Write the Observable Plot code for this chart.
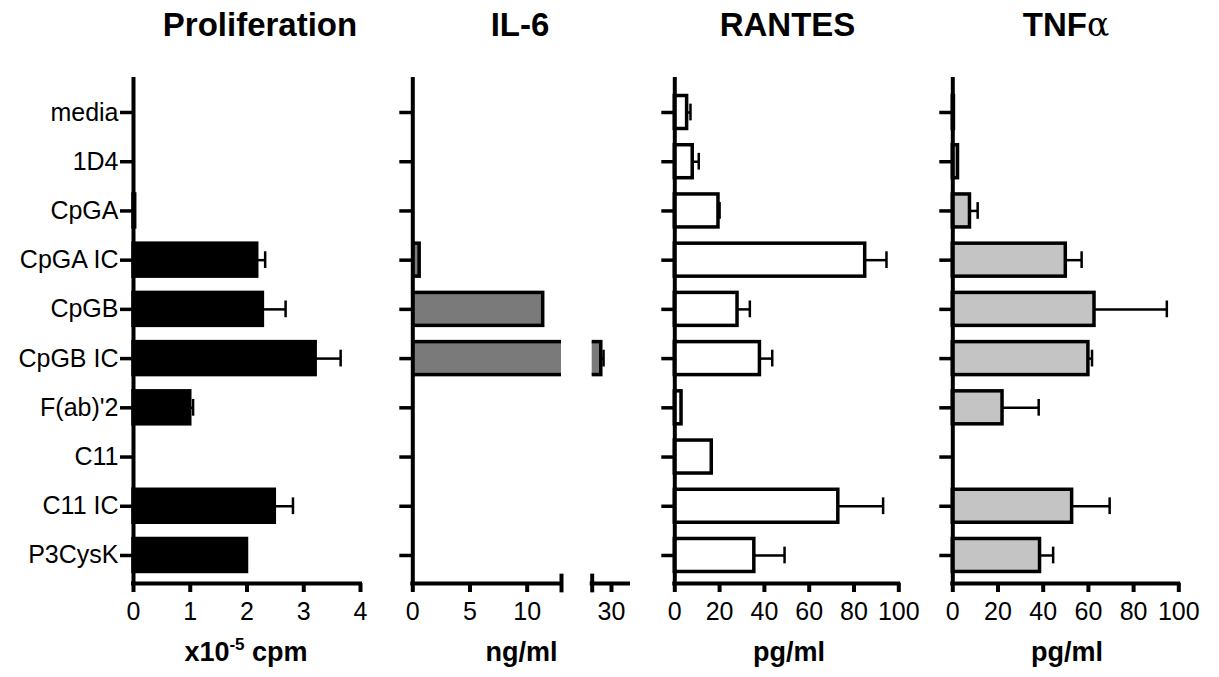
<!DOCTYPE html>
<html><head><meta charset="utf-8">
<script src="https://cdn.jsdelivr.net/npm/d3@7"></script>
<script src="https://cdn.jsdelivr.net/npm/@observablehq/plot@0.6"></script>
<style>
body{margin:0;background:#fff;}
#chart{position:relative;width:1219px;height:677px;font-family:"Liberation Sans",Arial,sans-serif;color:#000;overflow:hidden;}
#chart svg{position:absolute;left:0;top:0;background:transparent;max-width:none;}
.t{position:absolute;font-weight:bold;white-space:nowrap;transform:translateX(-50%);line-height:1;}
.title{font-size:33px;top:8px;}
.xl{font-size:27px;top:639px;}
</style></head><body><div id="chart"></div>
<script>
// ---- data ----
const categories = ["media","1D4","CpGA","CpGA IC","CpGB","CpGB IC","F(ab)'2","C11","C11 IC","P3CysK"];
const prolifMean = [0, 0, 0.03, 2.18, 2.28, 3.21, 1.0, 0, 2.49, 2.0];
const prolifErr  = [0, 0, 0, 0.14, 0.40, 0.44, 0.05, 0, 0.32, 0];
const il6Mean    = [0, 0, 0, 0.6, 11.4, 29.1, 0, 0, 0, 0];
const il6Err     = [0, 0, 0, 0, 0, 0.2, 0, 0, 0, 0];
const rantesMean = [5.5, 8, 19.5, 85, 28, 38, 3, 16.5, 73, 35.5];
const rantesErr  = [1.5, 2.7, 0.5, 9.5, 5.5, 5.5, 0, 0, 20, 13.5];
const tnfMean    = [0.5, 2.3, 7.6, 50, 62.7, 60, 22, 0, 52.8, 38.6];
const tnfErr     = [0, 0, 3.4, 7, 32, 1.6, 16, 0, 16.6, 5.8];
const prolifTicks = [0, 1, 2, 3, 4];
const il6TicksA = [0, 5, 10];
const il6TicksB = [30];
const pgTicks = [0, 20, 40, 60, 80, 100];

// ---- layout ----
const W = 1219, H = 677, TOP = 79, AXIS = 583;
const STEP = 49.22, FIRST = 112;
const yDomain = [(TOP - FIRST) / STEP, (AXIS - FIRST) / STEP];
const HALF = 0.335, CAP = 0.17;

function rows(mean, err) {
  return categories.map((c, i) => ({c, i, v: mean[i], e: err[i]}));
}

function panel({mean, err, fill, xDomain, x0, x1, ticks, yAxis = true, labels = false, clip = false, capLeft = false, capRight = false}) {
  const data = rows(mean, err);
  const withErr = data.filter(d => d.e > 0);
  const marks = [
    Plot.rectX(data, {
      x1: () => 0, x2: "v",
      y1: d => d.i - HALF, y2: d => d.i + HALF,
      fill, stroke: "black", strokeWidth: 3.5, clip
    }),
    Plot.ruleY(withErr, {y: "i", x1: "v", x2: d => d.v + d.e, stroke: "black", strokeWidth: 2.5, clip}),
    Plot.ruleX(withErr, {x: d => d.v + d.e, y1: d => d.i - CAP, y2: d => d.i + CAP, stroke: "black", strokeWidth: 2.5, clip}),
    Plot.ruleY([yDomain[1]], {x1: () => xDomain[0], x2: () => xDomain[1], stroke: "black", strokeWidth: 4, strokeLinecap: "square"}),
    Plot.axisX({ticks, tickSize: 9, tickPadding: 10, strokeWidth: 4, fontSize: 25, label: null, anchor: "bottom", tickFormat: d3.format("d")})
  ];
  if (yAxis) {
    marks.push(Plot.ruleX([xDomain[0]], {stroke: "black", strokeWidth: 4, strokeLinecap: "square"}));
    marks.push(Plot.axisY({
      ticks: d3.range(categories.length),
      tickFormat: labels ? (i => categories[i]) : (() => ""),
      tickSize: 13, tickPadding: 2, strokeWidth: 3.5, fontSize: 25, label: null, anchor: "left"
    }));
  }
  if (capRight) marks.push(Plot.ruleX([xDomain[1]], {y1: () => yDomain[1] - 0.19, y2: () => yDomain[1] + 0.19, stroke: "black", strokeWidth: 4}));
  if (capLeft) marks.push(Plot.ruleX([xDomain[0]], {y1: () => yDomain[1] - 0.19, y2: () => yDomain[1] + 0.19, stroke: "black", strokeWidth: 4}));
  return Plot.plot({
    width: W, height: H,
    marginLeft: x0, marginRight: W - x1, marginTop: TOP, marginBottom: H - AXIS,
    style: {fontFamily: "'Liberation Sans', Arial, sans-serif", color: "black", background: "transparent", overflow: "visible"},
    x: {domain: xDomain, label: null},
    y: {domain: yDomain, range: [TOP, AXIS], label: null, axis: yAxis ? undefined : null},
    marks
  });
}

const chart = document.getElementById("chart");
chart.append(panel({mean: prolifMean, err: prolifErr, fill: "black", xDomain: [0, 4], x0: 133, x1: 360, ticks: prolifTicks, labels: true}));
chart.append(panel({mean: il6Mean, err: il6Err, fill: "#7a7a7a", xDomain: [0, 13], x0: 412.3, x1: 561, ticks: il6TicksA, clip: true, capRight: true}));
chart.append(panel({mean: il6Mean, err: il6Err, fill: "#7a7a7a", xDomain: [28.3, 31.5], x0: 591.7, x1: 628, ticks: il6TicksB, yAxis: false, clip: true, capLeft: true}));
chart.append(panel({mean: rantesMean, err: rantesErr, fill: "white", xDomain: [0, 100], x0: 674.3, x1: 898.3, ticks: pgTicks}));
chart.append(panel({mean: tnfMean, err: tnfErr, fill: "#c4c4c4", xDomain: [0, 100], x0: 952.3, x1: 1178.3, ticks: pgTicks}));

function addText(cls, x, html) {
  const d = document.createElement("div");
  d.className = "t " + cls;
  d.style.left = x + "px";
  d.innerHTML = html;
  chart.append(d);
}
addText("title", 260, "Proliferation");
addText("title", 520, "IL-6");
addText("title", 787.5, "RANTES");
addText("title", 1066, "TNF<span style=\"font-family:'DejaVu Serif',serif;font-weight:normal\">α</span>");
addText("xl", 246, "x10<span style=\"font-size:17px;position:relative;top:-11px\">-5</span> cpm");
addText("xl", 521.5, "ng/ml");
addText("xl", 789, "pg/ml");
addText("xl", 1067, "pg/ml");
</script></body></html>
